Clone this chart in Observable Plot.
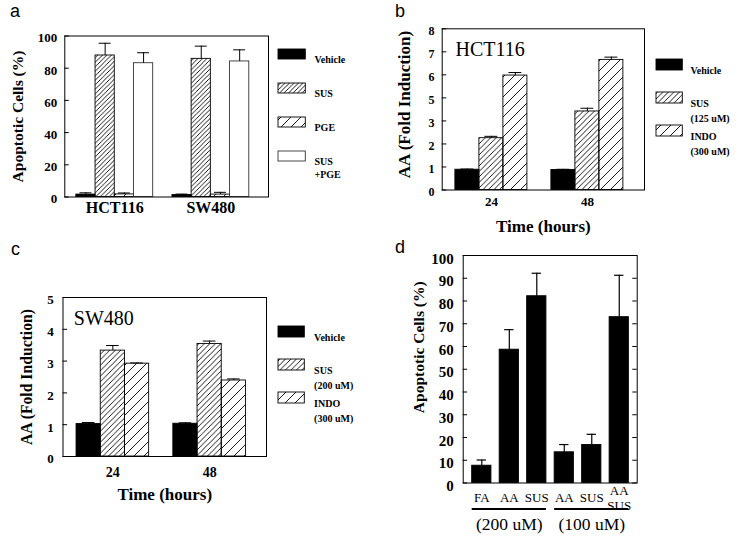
<!DOCTYPE html>
<html><head><meta charset="utf-8">
<script src="https://cdn.jsdelivr.net/npm/d3@7"></script>
<script src="https://cdn.jsdelivr.net/npm/@observablehq/plot@0.6"></script>
<style>
body{margin:0;background:#fff;}
#page{position:relative;width:737px;height:536px;overflow:hidden;background:#fff;}
.abs{position:absolute;}
.letter{position:absolute;font-family:"Liberation Sans",Arial,sans-serif;font-size:18px;line-height:18px;color:#000;}
</style></head><body>
<svg width="0" height="0" style="position:absolute">
<defs>
<pattern id="hatchA" patternUnits="userSpaceOnUse" width="4.5" height="4.5"><path d="M0,4.5L4.5,0M-1,1L1,-1M3.5,5.5L5.5,3.5" stroke="#000" stroke-width="0.9" fill="none"/></pattern>
<pattern id="hatchB" patternUnits="userSpaceOnUse" width="5.5" height="5.5"><path d="M0,5.5L5.5,0M-1,1L1,-1M4.5,6.5L6.5,4.5" stroke="#000" stroke-width="0.9" fill="none"/></pattern>
<pattern id="hatchW" patternUnits="userSpaceOnUse" width="10" height="10"><path d="M0,10L10,0M-1,1L1,-1M9,11L11,9" stroke="#000" stroke-width="0.9" fill="none"/></pattern>
</defs></svg>
<div id="page">
<div class="letter" style="left:10px;top:2px">a</div>
<div class="letter" style="left:395px;top:2px">b</div>
<div class="letter" style="left:11px;top:240px">c</div>
<div class="letter" style="left:395px;top:238px">d</div>
</div>
<script>
// ---------------- DATA ----------------
// Panel a
const groupsA = ["HCT116", "SW480"];
const seriesA = ["Vehicle", "SUS", "PGE", "SUS+PGE"];
const legendLabelsA = ["Vehicle", "SUS", "PGE", "SUS\n+PGE"];
const meanA = [[1.5, 87.9, 1.6, 83.1], [1.2, 85.8, 1.5, 84.2]];
const errA = [[2.6, 95.5, 2.5, 89.6], [1.8, 93.7, 2.9, 91.4]];
const ticksA = [0, 20, 40, 60, 80, 100];

// Panel b (HCT116)
const groupsB = ["24", "48"];
const seriesB = ["Vehicle", "SUS (125 uM)", "INDO (300 uM)"];
const legendLabelsB = ["Vehicle", "SUS\n(125 uM)", "INDO\n(300 uM)"];
const meanB = [[0.88, 2.25, 5.97], [0.87, 3.82, 6.65]];
const errB = [[0.91, 2.33, 6.10], [0.90, 4.10, 6.77]];
const ticksB = [0, 1, 2, 3, 5, 6, 7, 8];      // as printed (no "4")

// Panel c (SW480)
const groupsC = ["24", "48"];
const seriesC = ["Vehicle", "SUS (200 uM)", "INDO (300 uM)"];
const legendLabelsC = ["Vehicle", "SUS\n(200 uM)", "INDO\n(300 uM)"];
const meanC = [[1.02, 3.33, 2.92], [1.03, 3.54, 2.39]];
const errC = [[1.07, 3.49, 2.94], [1.06, 3.63, 2.44]];
const ticksC = [0, 1, 2, 3, 4, 5];

// Panel d
const labelsD = ["FA", "AA", "SUS", "AA", "SUS", "AA\nSUS"];
const concD = [0, 0, 0, 1, 1, 1];
const concLabelsD = ["(200 uM)", "(100 uM)"];
const meanD = [7.6, 58.6, 82.1, 13.5, 16.7, 72.9];
const errD = [10.1, 67.4, 92.2, 16.9, 21.4, 91.3];
const ticksD = [0, 10, 20, 30, 40, 50, 60, 70, 80, 90, 100];

// ---------------- HELPERS ----------------
const FONT = "'Liberation Serif','Times New Roman',serif";
const PAGE = document.getElementById("page");
function place(node, left, top) {
  const d = document.createElement("div");
  d.className = "abs"; d.style.left = left + "px"; d.style.top = top + "px";
  d.appendChild(node); PAGE.appendChild(d);
}
const baseStyle = {fontFamily: FONT, background: "transparent", color: "#000", overflow: "visible"};
const T = (o) => ({fontFamily: FONT, fill: "#000", ...o});

function groupedRows(groups, series, means, errs) {
  const rows = [];
  groups.forEach((g, gi) => series.forEach((s, si) =>
    rows.push({group: g, series: s, gi, si, value: means[gi][si], err: errs[gi][si]})));
  return rows;
}

function legendPlot(o) {
  const n = o.labels.length;
  const p = 1 - o.boxH / o.step;
  const entries = o.labels.map((label, i) => ({key: o.keys[i], label, fill: o.fills[i], stroke: o.strokes[i]}));
  return Plot.plot({
    width: o.width, height: o.height, margin: 0, style: baseStyle,
    x: {domain: [0, 1], range: [0, o.boxW], axis: null},
    y: {type: "band", domain: o.keys, range: [o.c0 - o.step / 2, o.c0 + o.step * (n - 0.5)],
        paddingInner: p, paddingOuter: p / 2, axis: null},
    marks: [
      ...entries.map(e => Plot.barX([e], {x1: 0, x2: 1, y: "key", fill: e.fill, stroke: e.stroke, strokeWidth: 0.9})),
      Plot.text(entries, T({x: 1, y: "key", text: "label", dx: o.gap, dy: o.dy, textAnchor: "start",
        lineAnchor: "top", lineHeight: o.lh, fontSize: o.fs, fontWeight: "bold"}))
    ]
  });
}

// ---------------- PANEL A ----------------
{
  const rows = groupedRows(groupsA, seriesA, meanA, errA);
  const off = 0.6, gStep = seriesA.length + 1;
  const x1 = d => off + d.gi * gStep + d.si, xc = d => x1(d) + 0.5;
  const fills = ["#000", "url(#hatchA)", "url(#hatchW)", "#fff"];
  const strokes = ["#000", "#000", "#000", "#333"];
  const chart = Plot.plot({
    width: 370, height: 240, marginTop: 35.5, marginRight: 102, marginBottom: 43.5, marginLeft: 64.3,
    style: baseStyle,
    x: {domain: [0, 10.6], axis: null},
    y: {domain: [0, 100], axis: null},
    marks: [
      ...seriesA.map((s, si) => Plot.rect(rows.filter(d => d.si === si),
        {x1, x2: d => x1(d) + 1, y1: 0, y2: "value", fill: fills[si], stroke: strokes[si], strokeWidth: 0.9})),
      Plot.ruleX(rows, {x: xc, y1: "value", y2: "err", stroke: "#000", strokeWidth: 1}),
      Plot.ruleY(rows, {y: "err", x1: d => xc(d) - 0.31, x2: d => xc(d) + 0.31, stroke: "#000", strokeWidth: 1}),
      Plot.ruleY(ticksA, {y: d => d, x1: 0, x2: 0.23, stroke: "#000"}),
      Plot.text(ticksA, T({y: d => d, text: d => String(d), frameAnchor: "left", dx: -7.6, dy: 2.2,
        textAnchor: "end", fontSize: 13, fontWeight: "bold"})),
      Plot.text(groupsA, T({x: (d, i) => off + i * gStep + seriesA.length / 2, text: d => d, frameAnchor: "bottom",
        dy: 10.5, lineAnchor: "middle", fontSize: 16, fontWeight: "bold"})),
      Plot.text(["Apoptotic Cells (%)"], T({text: d => d, frameAnchor: "left", textAnchor: "middle", dx: -46.8, rotate: -90,
        fontSize: 15.5, fontWeight: "bold"})),
      Plot.frame({stroke: "#000", strokeWidth: 1})
    ]
  });
  place(chart, 0, 0);
  place(legendPlot({width: 90, height: 240, boxW: 27.3, boxH: 10, c0: 53.3, step: 34.2, gap: 8.7, dy: -1,
    lh: 1.3, fs: 10, keys: seriesA, labels: legendLabelsA, fills, strokes}), 278.3, 0);
}

// ---------------- PANEL B ----------------
{
  const rows = groupedRows(groupsB, seriesB, meanB, errB);
  const off = 0.55, gStep = seriesB.length + 1;
  const x1 = d => off + d.gi * gStep + d.si, xc = d => x1(d) + 0.5;
  const fills = ["#000", "url(#hatchB)", "url(#hatchW)"];
  const strokes = ["#000", "#000", "#000"];
  const top = 28.3, bottom = 189.5, slot = (bottom - top) / 7;
  const brk = [0, 3, 5, 8], brkSlot = [0, 3, 4, 7];   // printed axis skips "4": 3→5 spans one slot
  const chart = Plot.plot({
    width: 367, height: 240, marginTop: top, marginRight: 93, marginBottom: 240 - bottom, marginLeft: 71.7,
    style: baseStyle,
    x: {domain: [0, 8.43], axis: null},
    y: {type: "linear", domain: brk, range: brkSlot.map(s => bottom - s * slot), axis: null},
    marks: [
      ...seriesB.map((s, si) => Plot.rect(rows.filter(d => d.si === si),
        {x1, x2: d => x1(d) + 1, y1: 0, y2: "value", fill: fills[si], stroke: strokes[si], strokeWidth: 0.9})),
      Plot.ruleX(rows, {x: xc, y1: "value", y2: "err", stroke: "#000", strokeWidth: 1}),
      Plot.ruleY(rows, {y: "err", x1: d => xc(d) - 0.27, x2: d => xc(d) + 0.27, stroke: "#000", strokeWidth: 1}),
      Plot.ruleY(ticksB, {y: d => d, x1: 0, x2: 0.19, stroke: "#000"}),
      Plot.text(ticksB, T({y: d => d, text: d => String(d), frameAnchor: "left", dx: -7.7, dy: 2.5,
        textAnchor: "end", fontSize: 12, fontWeight: "bold"})),
      Plot.text(groupsB, T({x: (d, i) => off + i * gStep + seriesB.length / 2, text: d => d, frameAnchor: "bottom",
        dy: 12.2, lineAnchor: "middle", fontSize: 13, fontWeight: "bold"})),
      Plot.text(["HCT116"], T({text: d => d, frameAnchor: "top-left", dx: 13.3, dy: 13, textAnchor: "start",
        lineAnchor: "top", fontSize: 20})),
      Plot.text(["AA (Fold Induction)"], T({text: d => d, frameAnchor: "left", textAnchor: "middle", dx: -37.7, dy: -4.9, rotate: -90,
        fontSize: 17, fontWeight: "bold"})),
      Plot.text(["Time (hours)"], T({text: d => d, frameAnchor: "bottom", dy: 36.3, lineAnchor: "middle",
        fontSize: 17, fontWeight: "bold"})),
      Plot.frame({stroke: "#000", strokeWidth: 1})
    ]
  });
  place(chart, 370, 0);
  place(legendPlot({width: 80, height: 240, boxW: 26.3, boxH: 11.5, c0: 64.2, step: 33.8, gap: 7.7, dy: -1.5,
    lh: 1.5, fs: 10, keys: seriesB, labels: legendLabelsB, fills, strokes}), 656, 0);
}

// ---------------- PANEL C ----------------
{
  const rows = groupedRows(groupsC, seriesC, meanC, errC);
  const off = 0.56, gStep = seriesC.length + 1;
  const x1 = d => off + d.gi * gStep + d.si, xc = d => x1(d) + 0.5;
  const fills = ["#000", "url(#hatchB)", "url(#hatchW)"];
  const strokes = ["#000", "#000", "#000"];
  const chart = Plot.plot({
    width: 370, height: 296, marginTop: 57, marginRight: 104, marginBottom: 80, marginLeft: 62.5,
    style: baseStyle,
    x: {domain: [0, 8.41], axis: null},
    y: {domain: [0, 5], axis: null},
    marks: [
      ...seriesC.map((s, si) => Plot.rect(rows.filter(d => d.si === si),
        {x1, x2: d => x1(d) + 1, y1: 0, y2: "value", fill: fills[si], stroke: strokes[si], strokeWidth: 0.9})),
      Plot.ruleX(rows, {x: xc, y1: "value", y2: "err", stroke: "#000", strokeWidth: 1}),
      Plot.ruleY(rows, {y: "err", x1: d => xc(d) - 0.26, x2: d => xc(d) + 0.26, stroke: "#000", strokeWidth: 1}),
      Plot.ruleY(ticksC, {y: d => d, x1: 0, x2: 0.19, stroke: "#000"}),
      Plot.text(ticksC, T({y: d => d, text: d => String(d), frameAnchor: "left", dx: -9.2, dy: 2.8,
        textAnchor: "end", fontSize: 13, fontWeight: "bold"})),
      Plot.text(groupsC, T({x: (d, i) => off + i * gStep + seriesC.length / 2, text: d => d, frameAnchor: "bottom",
        dy: 15.7, lineAnchor: "middle", fontSize: 14, fontWeight: "bold"})),
      Plot.text(["SW480"], T({text: d => d, frameAnchor: "top-left", dx: 10.8, dy: 13, textAnchor: "start",
        lineAnchor: "top", fontSize: 20})),
      Plot.text(["AA (Fold Induction)"], T({text: d => d, frameAnchor: "left", textAnchor: "middle", dx: -36, rotate: -90,
        fontSize: 15.7, fontWeight: "bold"})),
      Plot.text(["Time (hours)"], T({text: d => d, frameAnchor: "bottom", dy: 38, lineAnchor: "middle",
        fontSize: 17, fontWeight: "bold"})),
      Plot.frame({stroke: "#000", strokeWidth: 1})
    ]
  });
  place(chart, 0, 240);
  place(legendPlot({width: 90, height: 296, boxW: 26.3, boxH: 11.3, c0: 91.7, step: 33.3, gap: 9.3, dy: -1.5,
    lh: 1.5, fs: 10, keys: seriesC, labels: legendLabelsC, fills, strokes}), 277.7, 240);
}

// ---------------- PANEL D ----------------
{
  const rows = labelsD.map((label, i) => ({i, label, conc: concD[i], value: meanD[i], err: errD[i]}));
  const off = 0.327, bw = 0.7, xMax = 6.33;
  const x1 = d => off + d.i, xc = d => x1(d) + bw / 2;
  const groups = concLabelsD.map((label, g) => {
    const idx = rows.filter(d => d.conc === g).map(d => d.i);
    return {label, first: d3.min(idx), last: d3.max(idx)};
  });
  const chart = Plot.plot({
    width: 367, height: 296, marginTop: 15, marginRight: 100.3, marginBottom: 53.5, marginLeft: 92.7,
    style: baseStyle,
    x: {domain: [0, xMax], axis: null},
    y: {domain: [0, 100], axis: null},
    marks: [
      Plot.rect(rows, {x1, x2: d => x1(d) + bw, y1: 0, y2: "value", fill: "#000", stroke: "#000", strokeWidth: 0.9}),
      Plot.ruleX(rows, {x: xc, y1: "value", y2: "err", stroke: "#000", strokeWidth: 1.2}),
      Plot.ruleY(rows, {y: "err", x1: d => xc(d) - 0.17, x2: d => xc(d) + 0.17, stroke: "#000", strokeWidth: 1.2}),
      Plot.ruleY(ticksD, {y: d => d, x1: 0, x2: 0.16, stroke: "#000"}),
      Plot.ruleY(ticksD, {y: d => d, x1: xMax - 0.16, x2: xMax, stroke: "#000"}),
      Plot.text(ticksD, T({y: d => d, text: d => String(d), frameAnchor: "left", dx: -9.4, dy: 3.2,
        textAnchor: "end", fontSize: 15, fontWeight: "bold"})),
      Plot.text(rows, T({x: xc, text: "label", frameAnchor: "bottom", dy: 14.5, lineAnchor: "middle",
        lineHeight: 1.15, fontSize: 13})),
      Plot.ruleY(groups, {y: 0, x1: d => off + d.first, x2: d => off + d.last + bw, dy: 26, stroke: "#000", strokeWidth: 2}),
      Plot.text(groups, T({x: d => off + (d.first + d.last) / 2 + bw / 2, text: "label", frameAnchor: "bottom",
        dy: 41, lineAnchor: "middle", fontSize: 17.5})),
      Plot.text(["Apoptotic Cells (%)"], T({text: d => d, frameAnchor: "left", textAnchor: "middle", dx: -44.4, dy: -22, rotate: -90,
        fontSize: 15.5, fontWeight: "bold"})),
      Plot.frame({stroke: "#000", strokeWidth: 1})
    ]
  });
  place(chart, 370, 240);
}
</script>
</body></html>
